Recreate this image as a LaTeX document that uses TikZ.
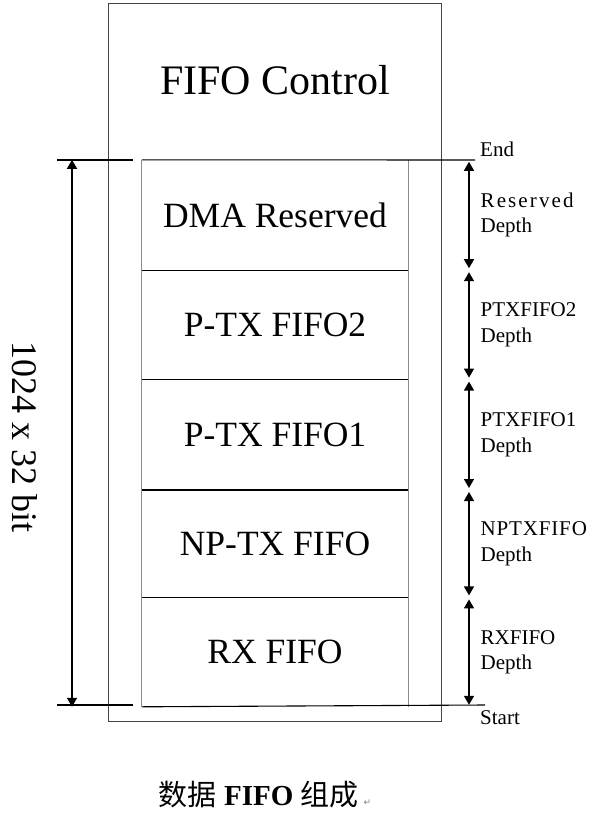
\documentclass[tikz,border=0pt]{standalone}
\usepackage{fontspec}
\setmainfont{Liberation Serif}
\newfontfamily\cjkFont{Noto Sans CJK SC}
\newfontfamily\symbolFont{DejaVu Sans}
\usetikzlibrary{positioning}
\usetikzlibrary{arrows.meta}
\tikzstyle{diagram} = [x = 1pt, y = -1pt]
\definecolor{outerColor}{RGB}{68,68,68}
\definecolor{sideColor}{RGB}{140,140,140}
\tikzstyle{fifoPart} = [minimum width = 266pt, inner sep = 0pt, font = \fontsize{35.5}{35.5}\selectfont]
\tikzstyle{outerLine} = [color = outerColor, line width = 1pt]
\tikzstyle{sideLine} = [color = sideColor, line width = 1.3pt]
\tikzstyle{levelLine} = [color = black, line width = 1.1pt]
\tikzstyle{sizeArrow} = [{Triangle[width=10pt,length=9pt]}-{Triangle[width=10pt,length=9pt]}, line width = 1.4pt]
\tikzstyle{depthText} = [anchor = west, align = left, inner sep = 0pt, font = \fontsize{21}{25.5}\selectfont]
\newcommand{\depthArrow}[2]{\draw [sizeArrow, shorten <= 2pt, shorten >= 2pt] (#1.north east -| depthLine) -- (#1.south east -| depthLine) node [depthText, midway, xshift = 11pt] {#2};}
\newcommand{\levelLine}[1]{\draw [levelLine] (#1.south west) -- (#1.south east);}
\newcommand{\spaced}[1]{{\addfontfeature{LetterSpace=10}#1}}
\begin{document}
\begin{tikzpicture}[diagram]
  \useasboundingbox (0,0) rectangle (597,822);
  % outer box and control
  \draw [outerLine] (108,3) rectangle (441,721);
  \node [font = \fontsize{42}{42}\selectfont] (ctrlText) at (275,80) {FIFO Control};
  % fifo parts
  \node [fifoPart, minimum height = 110pt] (dmaPart) at (275,215) {DMA Reserved};
  \node [fifoPart, minimum height = 109pt, below = 0pt of dmaPart] (ptxTwoPart) {P-TX FIFO2};
  \node [fifoPart, minimum height = 110pt, below = 0pt of ptxTwoPart] (ptxOnePart) {P-TX FIFO1};
  \node [fifoPart, minimum height = 107pt, below = 0pt of ptxOnePart] (nptxPart) {NP-TX FIFO};
  \node [fifoPart, minimum height = 109pt, below = 0pt of nptxPart] (rxPart) {RX FIFO};
  \coordinate (sizeLine) at (72,0);
  \coordinate (depthLine) at (469,0);
  \draw [sideLine] (dmaPart.north west) -- (rxPart.south west);
  \draw [sideLine] (dmaPart.north east) -- (rxPart.south east);
  \levelLine{dmaPart}\levelLine{ptxTwoPart}\levelLine{ptxOnePart}\levelLine{nptxPart}
  \draw [levelLine] (57,160) -- (133,160);
  \draw [levelLine] (dmaPart.north west) -- (475,160);
  \draw [levelLine] (57,705) -- (133,705);
  \draw [levelLine] (rxPart.south west) -- (485,705);
  % sizes
  \draw [sizeArrow] (dmaPart.north west -| sizeLine) -- (rxPart.south west -| sizeLine);
  \node [rotate = -90, font = \fontsize{36}{36}\selectfont] (sizeText) at (25,437) {1024 x 32 bit};
  \node [depthText] (endText) at (480,149) {End};
  \node [depthText] (startText) at (480,718) {Start};
  \depthArrow{dmaPart}{\spaced{Reserved}\\Depth}
  \depthArrow{ptxTwoPart}{PTXFIFO2\\Depth}
  \depthArrow{ptxOnePart}{PTXFIFO1\\Depth}
  \depthArrow{nptxPart}{{\addfontfeature{LetterSpace=4}NPTXFIFO}\\Depth}
  \depthArrow{rxPart}{RXFIFO\\Depth}
  % caption
  \node [font = \fontsize{29}{29}\selectfont] (captionText) at (265,795) {{\cjkFont 数据} \textbf{FIFO} {\cjkFont 组成}\,{\symbolFont\fontsize{9}{9}\selectfont\color{gray}↵}};
\end{tikzpicture}
\end{document}
